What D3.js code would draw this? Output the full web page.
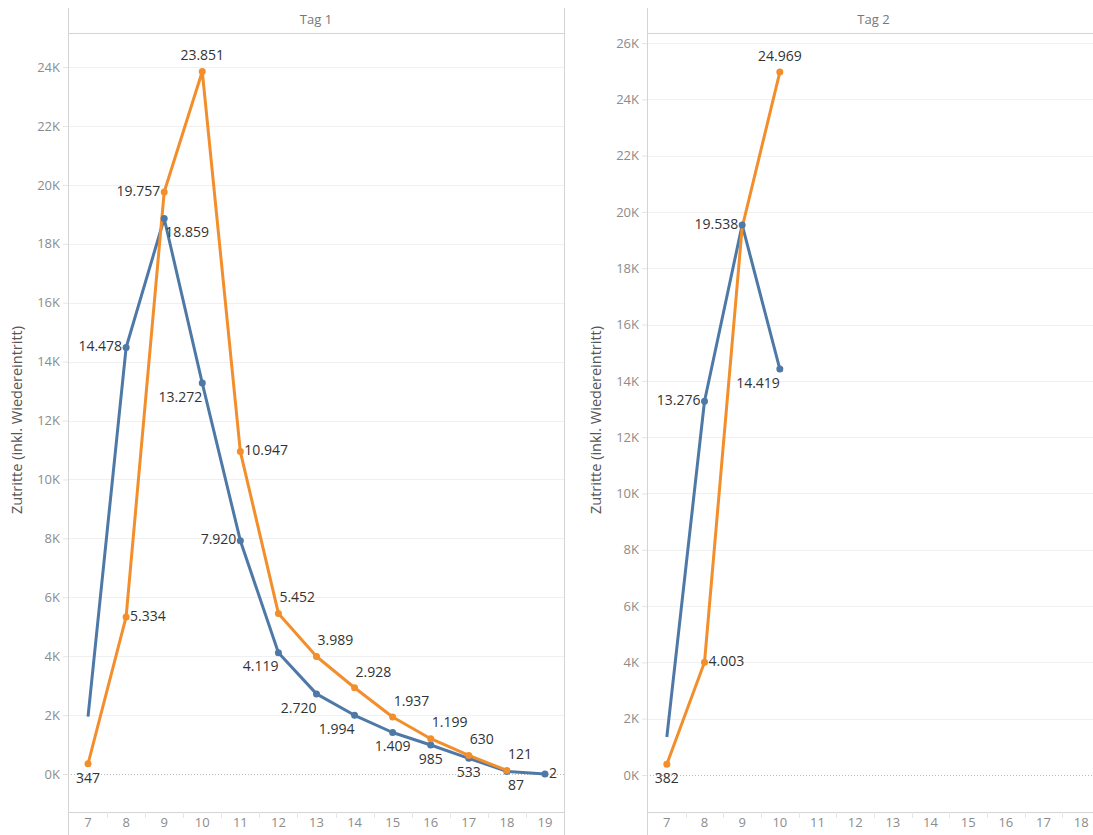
<!DOCTYPE html>
<html>
<head>
<meta charset="utf-8">
<script src="https://cdn.jsdelivr.net/npm/d3@7"></script>
<style>
  body { margin: 0; background: #fff; }
  svg { display: block; font-family: "Open Sans", sans-serif; }
</style>
</head>
<body>
<div id="chart"></div>
<script>
// ---- data (Zutritte pro Stunde) ----
const hoursTag1 = [7, 8, 9, 10, 11, 12, 13, 14, 15, 16, 17, 18, 19];
const hoursTag2 = [7, 8, 9, 10, 11, 12, 13, 14, 15, 16, 17, 18];

const tag1Blue = [1950, 14478, 18859, 13272, 7920, 4119, 2720, 1994, 1409, 985, 533, 87, 2];
const tag1Orange = [347, 5334, 19757, 23851, 10947, 5452, 3989, 2928, 1937, 1199, 630, 121];
const tag2Blue = [1350, 13276, 19538, 14419];
const tag2Orange = [382, 4003, 19450, 24969];

const yTicksTag1 = [0, 2000, 4000, 6000, 8000, 10000, 12000, 14000, 16000, 18000, 20000, 22000, 24000];
const yTicksTag2 = [0, 2000, 4000, 6000, 8000, 10000, 12000, 14000, 16000, 18000, 20000, 22000, 24000, 26000];

// label placement per point: a=above, b=below, l=left, r=right,
// ar/br = above/below starting at point, bl = below ending at point, "-" = no label
const placeTag1Blue = ["-", "l", "br", "bl", "l", "bl", "bl", "bl", "b", "b", "b", "br", "r"];
const placeTag1Orange = ["b", "r", "l", "a", "r", "ar", "ar", "ar", "ar", "ar", "ar", "ar"];
const placeTag2Blue = ["-", "l", "l", "bl"];
const placeTag2Orange = ["b", "r", "-", "a"];

const blue = "#4e79a7";
const orange = "#f28e2b";
const width = 1093, height = 835;
const frameTop = 8, headerBottom = 33, plotTop = 37, plotBottom = 812;

const fmt = d3.format(",");
const deFmt = v => fmt(v).replace(/,/g, ".");

const svg = d3.select("#chart").append("svg")
  .attr("width", width)
  .attr("height", height);

const panels = [
  { title: "Tag 1", hours: hoursTag1, ticks: yTicksTag1, left: 68, right: 564, yDom: [-1290, 25020],
    series: [
      { values: tag1Blue, place: placeTag1Blue, color: blue },
      { values: tag1Orange, place: placeTag1Orange, color: orange }
    ] },
  { title: "Tag 2", hours: hoursTag2, ticks: yTicksTag2, left: 647, right: 1100, yDom: [-1314, 26213],
    series: [
      { values: tag2Blue, place: placeTag2Blue, color: blue },
      { values: tag2Orange, place: placeTag2Orange, color: orange }
    ] }
];

panels.forEach(p => drawPanel(p));

function drawPanel(p) {
  const g = svg.append("g");

  const x = d3.scaleBand()
    .domain(p.hours)
    .range([p.left + 1, p.right]);

  const y = d3.scaleLinear()
    .domain(p.yDom)
    .range([plotBottom, plotTop]);

  // gridlines
  g.append("g")
    .selectAll("line")
    .data(p.ticks.filter(t => t !== 0))
    .join("line")
    .attr("x1", p.left)
    .attr("x2", p.right)
    .attr("y1", d => Math.round(y(d)) + 0.5)
    .attr("y2", d => Math.round(y(d)) + 0.5)
    .attr("stroke", "#f0f0f0")
    .attr("stroke-width", 1);

  // zero line (dotted)
  g.append("line")
    .attr("x1", p.left)
    .attr("x2", p.right)
    .attr("y1", Math.round(y(0)) + 0.5)
    .attr("y2", Math.round(y(0)) + 0.5)
    .attr("stroke", "#bbb")
    .attr("stroke-dasharray", "1,2");

  // y axis
  const yAxis = d3.axisLeft(y)
    .tickValues(p.ticks)
    .tickFormat(d => (d / 1000) + "K")
    .tickSize(5)
    .tickPadding(3);
  const ya = g.append("g")
    .attr("transform", `translate(${p.left},0)`)
    .call(yAxis);
  ya.select(".domain").remove();
  ya.selectAll(".tick line").attr("stroke", "#e6e6e6");
  ya.selectAll(".tick text")
    .attr("fill", "#8c8c8c")
    .attr("font-size", 13)
    .attr("font-family", "Open Sans, sans-serif");

  // frame lines
  g.append("line")
    .attr("x1", p.left + 0.5).attr("x2", p.left + 0.5)
    .attr("y1", frameTop).attr("y2", height)
    .attr("stroke", "#d4d4d4");
  g.append("line")
    .attr("x1", p.right + 0.5).attr("x2", p.right + 0.5)
    .attr("y1", frameTop).attr("y2", height)
    .attr("stroke", "#d4d4d4");
  g.append("line")
    .attr("x1", p.left).attr("x2", p.right)
    .attr("y1", headerBottom + 0.5).attr("y2", headerBottom + 0.5)
    .attr("stroke", "#d4d4d4");

  // header
  g.append("text")
    .attr("x", (p.left + p.right) / 2)
    .attr("y", 21)
    .attr("dominant-baseline", "middle")
    .attr("text-anchor", "middle")
    .attr("fill", "#777")
    .attr("font-size", 13)
    .text(p.title);

  // y title
  g.append("text")
    .attr("transform", `translate(${p.left - 46},420) rotate(-90)`)
    .attr("text-anchor", "middle")
    .attr("fill", "#555")
    .attr("font-size", 14.5)
    .text("Zutritte (inkl. Wiedereintritt)");

  // x axis
  const xAxis = d3.axisBottom(x).tickSize(0).tickPadding(6);
  const xa = g.append("g")
    .attr("transform", `translate(0,${plotBottom})`)
    .call(xAxis);
  xa.select(".domain").remove();
  xa.selectAll(".tick text")
    .attr("fill", "#8c8c8c")
    .attr("font-size", 13)
    .attr("font-family", "Open Sans, sans-serif");
  g.append("line")
    .attr("x1", p.left).attr("x2", p.right)
    .attr("y1", plotBottom + 0.5).attr("y2", plotBottom + 0.5)
    .attr("stroke", "#d4d4d4");
  g.append("g")
    .selectAll("line")
    .data(p.hours.slice(1))
    .join("line")
    .attr("x1", d => Math.round(x(d)) + 0.5)
    .attr("x2", d => Math.round(x(d)) + 0.5)
    .attr("y1", plotBottom)
    .attr("y2", plotBottom + 6)
    .attr("stroke", "#e6e6e6");

  const cx = h => x(h) + x.bandwidth() / 2;

  // lines
  p.series.forEach(s => {
    const pts = s.values.map((v, i) => ({ h: p.hours[i], v, place: s.place[i] }));
    const line = d3.line().x(d => cx(d.h)).y(d => y(d.v));
    g.append("path")
      .datum(pts)
      .attr("d", line)
      .attr("fill", "none")
      .attr("stroke", s.color)
      .attr("stroke-width", 3)
      .attr("stroke-linejoin", "round");
    s.pts = pts;
  });

  // dots
  p.series.forEach(s => {
    g.append("g")
      .selectAll("circle")
      .data(s.pts.filter(d => d.place !== "-"))
      .join("circle")
      .attr("cx", d => cx(d.h))
      .attr("cy", d => y(d.v))
      .attr("r", 3.5)
      .attr("fill", s.color);
  });

  // labels
  p.series.forEach(s => {
    g.append("g")
      .selectAll("text")
      .data(s.pts.filter(d => d.place !== "-"))
      .join("text")
      .attr("x", d => {
        const px = cx(d.h);
        if (d.place === "l") return px - 4;
        if (d.place === "r") return px + 4;
        if (d.place === "ar" || d.place === "br") return px + 1;
        return px;
      })
      .attr("y", d => {
        const py = y(d.v);
        if (d.place === "a" || d.place === "ar") return py - 15;
        if (d.place === "b" || d.place === "br" || d.place === "bl") return py + 15;
        return py;
      })
      .attr("text-anchor", d => {
        if (d.place === "l" || d.place === "bl") return "end";
        if (d.place === "r" || d.place === "ar" || d.place === "br") return "start";
        return "middle";
      })
      .attr("dominant-baseline", "middle")
      .attr("fill", "#333")
      .attr("font-size", 14)
      .text(d => deFmt(d.v));
  });
}
</script>
</body>
</html>
